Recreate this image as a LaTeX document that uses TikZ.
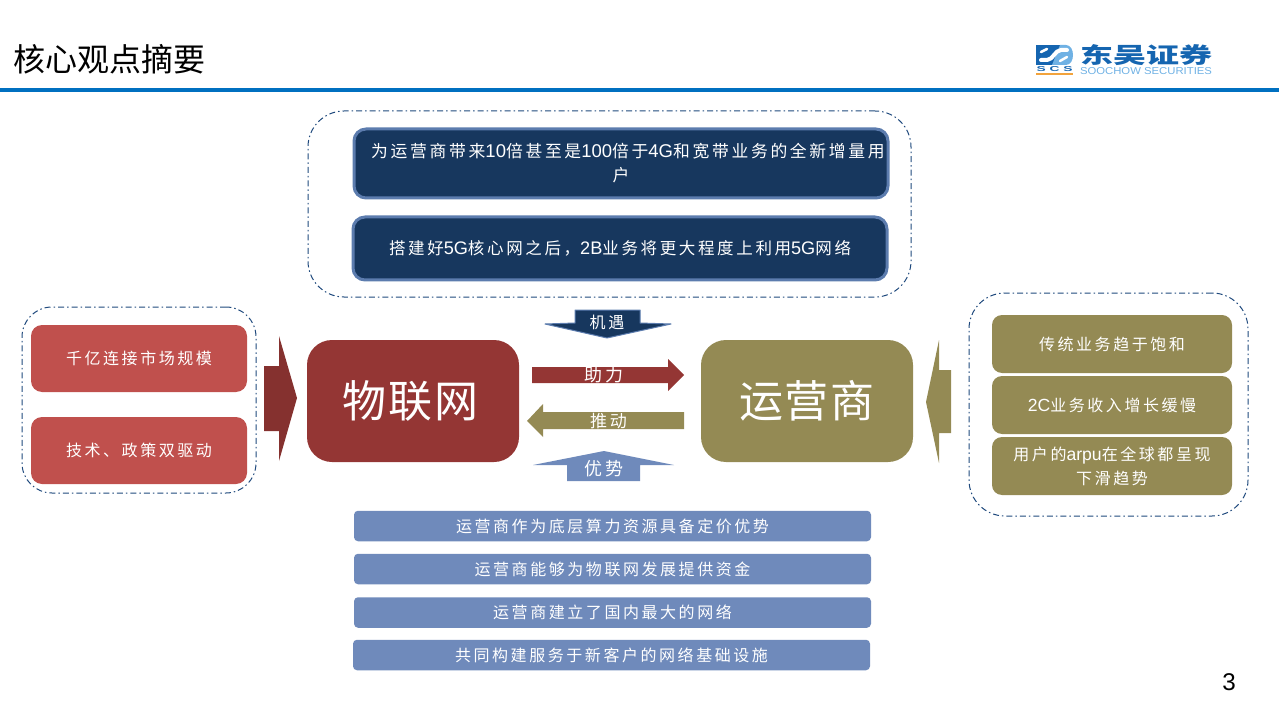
\documentclass[tikz,border=0pt]{standalone}
\usepackage{fontspec}
\setmainfont[LetterSpace=16]{Noto Sans CJK SC}
\newfontfamily\latfont[Scale=1.1]{Liberation Sans}
\newfontfamily\titlefont{Noto Sans CJK SC}
\newfontfamily\bigfont[LetterSpace=4.5]{Noto Sans CJK SC}
\newcommand{\lat}[1]{{\latfont #1}}
\definecolor{navybox}{HTML}{17375E}
\definecolor{navyline}{HTML}{5C7CAE}
\definecolor{redbox}{HTML}{C0504D}
\definecolor{darkred}{HTML}{943634}
\definecolor{olivebox}{HTML}{948A54}
\definecolor{greyblue}{HTML}{6F8ABB}
\definecolor{dashblue}{HTML}{1F497D}
\definecolor{rulebar}{HTML}{0070C0}
\definecolor{logoblue}{HTML}{1565B0}
\definecolor{logosky}{HTML}{6FB1E4}
\definecolor{logoorange}{HTML}{F2A33C}
\tikzset{
    basebox/.style={
        rectangle, inner sep=0pt, align=center,
        text=white,
        font=\fontsize{16}{24}\selectfont,
    },
    outerbox/.style={
        rectangle, inner sep=0pt,
        draw=dashblue, line width=1pt,
        dash pattern=on 6pt off 3pt on 1.5pt off 3pt,
    },
    navynode/.style={
        basebox, rounded corners=12pt,
        draw=navyline, line width=3pt,
        fill=navybox,
        minimum width=534pt,
        font=\fontsize{16.5}{24}\selectfont,
    },
    rednode/.style={
        basebox, rounded corners=11pt,
        fill=redbox,
        minimum width=216pt, minimum height=67pt,
    },
    olivenode/.style={
        basebox, rounded corners=10pt,
        fill=olivebox,
        minimum width=240pt, minimum height=58pt,
    },
    barnode/.style={
        basebox, rounded corners=4pt,
        fill=greyblue,
        minimum width=517pt, minimum height=30.5pt,
    },
    bignode/.style={
        basebox, rounded corners=25pt,
        minimum width=212pt, minimum height=122pt,
        font=\bigfont\fontsize{44}{50}\selectfont,
    },
    arrowlabel/.style={
        inner sep=0pt, text=white,
        font=\fontsize{16}{20}\selectfont,
    },
}

\begin{document}
\begin{tikzpicture}[x=1pt, y=-1pt]
    \useasboundingbox (0,0) rectangle (1279,719);

    % header
    \node (title) at(13,59) [
        anchor=west, inner sep=0pt,
        text=black,
        font=\titlefont\fontsize{32}{36}\selectfont,
    ] {核心观点摘要};
    \fill[rulebar] (0,88) rectangle (1279,92);

    % logo
    \fill[logoblue] (1036,45) rectangle (1066,65);
    \fill[logosky] (1052,65) -- (1066,65) to[out=0,in=-90] (1073,55) to[out=90,in=0] (1066,45) -- (1060,45) -- cycle;
    \draw[white, line width=4pt, line cap=round] (1041,60) -- (1047,60) .. controls (1053,60) and (1055,50) .. (1061,50) -- (1067,50);
    \draw[white, line width=2.5pt, line cap=round] (1041,52) -- (1047,49);
    \draw[white, line width=2.5pt, line cap=round] (1060,61) -- (1067,57);
    \fill[logoorange] (1036,73) rectangle (1073,75);
    \node (logoscs) at(1054.5,69) [inner sep=0pt, text=logoblue] {\resizebox{36pt}{5pt}{\latfont\bfseries S C S}};
    \node (logocn) at(1146,55) [inner sep=0pt, text=logoblue] {\resizebox{132pt}{19pt}{\titlefont\bfseries 东吴证券}};
    \node (logoen) at(1146,71) [inner sep=0pt, text=logosky] {\resizebox{132pt}{7pt}{\latfont SOOCHOW SECURITIES}};

    % dashed groups
    \node (chance) at(609.5,204) [
        outerbox, rounded corners=36pt,
        minimum width=603pt, minimum height=186pt,
    ] {};
    \node (drivers) at(139,400) [
        outerbox, rounded corners=30pt,
        minimum width=234pt, minimum height=186pt,
    ] {};
    \node (status) at(1108.5,404.5) [
        outerbox, rounded corners=36pt,
        minimum width=279pt, minimum height=223pt,
    ] {};

    % top
    \node (users) at(621,163.5) [navynode, minimum height=69pt, font=\fontsize{16.8}{24}\selectfont] {\hspace*{14pt}为运营商带来\lat{10}倍甚至是\lat{100}倍于\lat{4G}和宽带业务的全新增量用\\户};
    \node (core) at(620,248.5) [navynode, minimum height=63pt] {搭建好\lat{5G}核心网之后，\lat{2B}业务将更大程度上利用\lat{5G}网络};

    % left
    \node (scale) at(139,358.5) [rednode] {千亿连接市场规模};
    \node (policy) at(139,450.5) [rednode] {技术、政策双驱动};
    \fill[darkred!90!black] (264,366) -- (279,366) -- (279,336) -- (297,398) -- (279,461) -- (279,431) -- (264,431) -- cycle;

    % centre
    \node (iot) at(413,401) [bignode, fill=darkred] {\hspace*{-5pt}物联网};
    \node (carrier) at(807,401) [bignode, fill=olivebox] {运营商};

    \draw[fill=navybox, draw=navyline, line width=1pt, line join=round] (575,310) -- (640,310) -- (640,323) -- (671,324) -- (607,338) -- (545,324) -- (575,323) -- cycle;
    \node (jiyu) at(607,322) [arrowlabel] {机遇};
    \fill[darkred] (532,367) -- (668,367) -- (668,359) -- (684,375) -- (668,391) -- (668,383) -- (532,383) -- cycle;
    \node (zhuli) at(604,375) [arrowlabel, font=\fontsize{18}{20}\selectfont] {助力};
    \fill[olivebox] (684,412) -- (543,412) -- (543,404) -- (527,421) -- (543,437) -- (543,429) -- (684,429) -- cycle;
    \node (tuidong) at(608.5,421) [arrowlabel, font=\fontsize{17}{20}\selectfont] {推动};
    \fill[greyblue] (567,481) -- (640,481) -- (640,465) -- (674,465) -- (604,451) -- (533,465) -- (567,465) -- cycle;
    \node (youshi) at(604,469) [arrowlabel, font=\fontsize{18}{20}\selectfont] {优势};

    % right
    \fill[olivebox] (951,370) -- (939,370) -- (939,340) -- (926,402) -- (939,463) -- (939,433) -- (951,433) -- cycle;
    \node (legacy) at(1112,344) [olivenode] {传统业务趋于饱和};
    \node (slowdown) at(1112,405) [olivenode] {\lat{2C}业务收入增长缓慢};
    \node (arpu) at(1112,466) [olivenode] {用户的\lat{arpu}在全球都呈现\\下滑趋势};

    % bottom
    \node (pricing) at(612.5,526) [barnode] {运营商作为底层算力资源具备定价优势};
    \node (funding) at(612.5,569) [barnode] {运营商能够为物联网发展提供资金};
    \node (network) at(612.5,612.5) [barnode] {运营商建立了国内最大的网络};
    \node (infra) at(611.5,655) [barnode] {共同构建服务于新客户的网络基础设施};

    \node (pageno) at(1229,682) [inner sep=0pt, font=\latfont\fontsize{22}{28}\selectfont] {3};
\end{tikzpicture}
\end{document}
